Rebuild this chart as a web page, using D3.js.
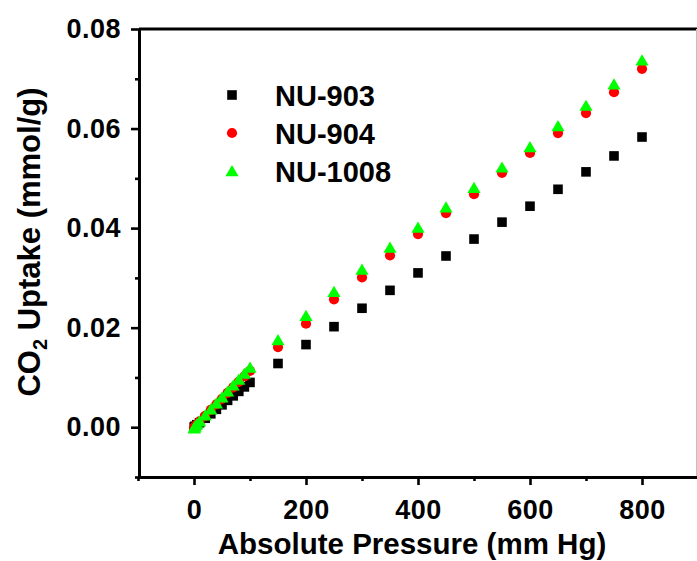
<!DOCTYPE html>
<html>
<head>
<meta charset="utf-8">
<script src="https://cdn.jsdelivr.net/npm/d3@7"></script>
<style>
  html, body { margin: 0; padding: 0; background: #fff; }
  svg { display: block; }
  text { font-family: "Liberation Sans", Arial, sans-serif; font-weight: bold; fill: #000; }
</style>
</head>
<body>
<svg id="chart" width="697" height="561"></svg>
<script>
// ---------------- data ----------------
const pressure = [0.5, 1, 2, 5, 10, 20, 30, 40, 50, 60, 70, 80, 90, 100,
                  150, 200, 250, 300, 350, 400, 450, 500, 550, 600, 650, 700, 750, 800];
const nu903  = [0.0000, 0.0001, 0.0002, 0.0005, 0.0009, 0.0018, 0.0027, 0.0036, 0.0045, 0.0054, 0.0063, 0.0072, 0.0081, 0.0090,
                0.0128, 0.0166, 0.0202, 0.0239, 0.0275, 0.0310, 0.0344, 0.0378, 0.0412, 0.0444, 0.0478, 0.0513, 0.0545, 0.0583];
const nu904  = [-0.0001, 0.0000, 0.0002, 0.0006, 0.0012, 0.0023, 0.0035, 0.0046, 0.0057, 0.0069, 0.0080, 0.0091, 0.0102, 0.0113,
                0.0161, 0.0208, 0.0257, 0.0301, 0.0345, 0.0388, 0.0430, 0.0468, 0.0511, 0.0551, 0.0591, 0.0631, 0.0673, 0.0720];
const nu1008 = [-0.0002, 0.0000, 0.0002, 0.0006, 0.0012, 0.0024, 0.0036, 0.0048, 0.0060, 0.0072, 0.0084, 0.0096, 0.0108, 0.0120,
                0.0175, 0.0224, 0.0272, 0.0317, 0.0361, 0.0401, 0.0442, 0.0481, 0.0522, 0.0563, 0.0605, 0.0646, 0.0689, 0.0737];
const seriesNames = ["NU-903", "NU-904", "NU-1008"];
const xTickValues = [0, 200, 400, 600, 800];
const xMinorTicks = [-100, 100, 300, 500, 700];
const yTickValues = [0.00, 0.02, 0.04, 0.06, 0.08];
const yMinorTicks = [-0.01, 0.01, 0.03, 0.05, 0.07];
const xTitle = "Absolute Pressure (mm Hg)";

// ---------------- layout ----------------
const svg = d3.select("#chart");
const L = 139, R = 698, T = 29, B = 477;
const x = d3.scaleLinear().domain([-100, 900]).range([L - 1, R]);
const y = d3.scaleLinear().domain([-0.01, 0.08]).range([B, T]);

const colors = ["#000000", "#ff0000", "#00ff00"];
const shapes = ["square", "circle", "triangle"];

function markerPath(shape) {
  if (shape === "square") return "M-4.8,-4.8H4.8V4.8H-4.8Z";
  if (shape === "circle") return d3.symbol(d3.symbolCircle, Math.PI * 5.1 * 5.1)();
  return "M0,-6L6.6,5.2H-6.6Z";
}

// frame (top + right)
svg.append("line").attr("x1", L).attr("x2", 697).attr("y1", T).attr("y2", T)
  .attr("stroke", "#000").attr("stroke-width", 3);
svg.append("line").attr("x1", 696.5).attr("x2", 696.5).attr("y1", T).attr("y2", B)
  .attr("stroke", "#c0c0c0").attr("stroke-width", 1);

// axes
function styleAxis(g, labelSize) {
  g.select(".domain").attr("stroke", "#000").attr("stroke-width", 3);
  g.selectAll(".tick line").attr("stroke", "#000").attr("stroke-width", 2.6);
  g.selectAll(".tick text")
    .style("font-family", '"Liberation Sans", Arial, sans-serif')
    .style("font-weight", "bold")
    .style("font-size", labelSize + "px")
    .attr("fill", "#000");
}

const xMajor = svg.append("g").attr("transform", `translate(0,${B})`)
  .call(d3.axisBottom(x).tickValues(xTickValues).tickSize(8).tickPadding(15).tickSizeOuter(0)
        .tickFormat(d3.format("d")));
styleAxis(xMajor, 27);
xMajor.selectAll(".tick text").style("letter-spacing", "0.5px");
const xMinor = svg.append("g").attr("transform", `translate(0,${B})`)
  .call(d3.axisBottom(x).tickValues(xMinorTicks).tickSize(4).tickFormat("").tickSizeOuter(0));
styleAxis(xMinor, 27);

const yMajor = svg.append("g").attr("transform", `translate(${L},0)`)
  .call(d3.axisLeft(y).tickValues(yTickValues).tickSize(8).tickPadding(10).tickSizeOuter(0)
        .tickFormat(d3.format(".2f")));
styleAxis(yMajor, 27);
yMajor.selectAll(".tick text").style("letter-spacing", "0.5px");
const yMinor = svg.append("g").attr("transform", `translate(${L},0)`)
  .call(d3.axisLeft(y).tickValues(yMinorTicks).tickSize(4).tickFormat("").tickSizeOuter(0));
styleAxis(yMinor, 27);

// data points
const allSeries = [nu903, nu904, nu1008];
allSeries.forEach((vals, si) => {
  svg.append("g").selectAll("path")
    .data(pressure.map((p, i) => [p, vals[i]]))
    .join("path")
    .attr("d", markerPath(shapes[si]))
    .attr("transform", d => `translate(${x(d[0])},${y(d[1])})`)
    .attr("fill", colors[si]);
});

// legend
const legendRowsY = [95, 133, 171];
seriesNames.forEach((name, i) => {
  svg.append("path").attr("d", markerPath(shapes[i]))
    .attr("transform", `translate(232,${legendRowsY[i]})`)
    .attr("fill", colors[i]);
  svg.append("text").attr("x", 275).attr("y", legendRowsY[i] + 10.5)
    .style("font-size", "29px").text(name);
});

// axis titles
svg.append("text").attr("x", 412).attr("y", 554).attr("text-anchor", "middle")
  .style("font-size", "29.5px").text(xTitle);

const yt = svg.append("text")
  .attr("transform", "translate(40,242) rotate(-90)")
  .attr("text-anchor", "middle")
  .style("font-size", "31px");
yt.append("tspan").text("CO");
yt.append("tspan").attr("dy", 7).style("font-size", "20px").text("2");
yt.append("tspan").attr("dy", -7).text(" Uptake (mmol/g)");
</script>
</body>
</html>
